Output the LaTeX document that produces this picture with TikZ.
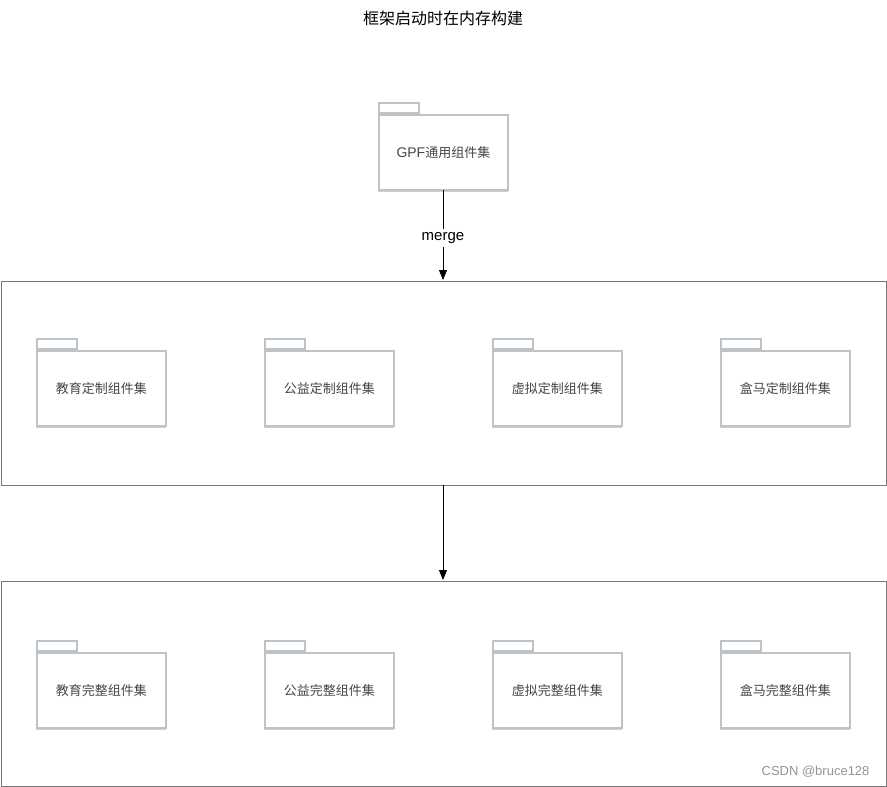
\documentclass[tikz,border=0pt]{standalone}
\usepackage{fontspec}
\setmainfont{Noto Sans CJK SC}
\newfontfamily\latin{Liberation Sans}
\usetikzlibrary{arrows.meta}
\definecolor{pkgline}{RGB}{190,195,199}
\definecolor{pkgshadow}{RGB}{205,208,211}
\definecolor{frameline}{RGB}{120,120,120}
\definecolor{pkgtext}{RGB}{70,70,70}
\tikzset{
  x=1pt,y=-1pt,
  pkgbody/.style={draw=pkgline,line width=1.8pt,fill=white,minimum width=129pt,minimum height=75pt,anchor=north west,inner sep=0pt,font=\fontsize{13}{15}\selectfont,text=pkgtext},
  pkgtab/.style={draw=pkgline,line width=1.8pt,fill=white,minimum width=40pt,minimum height=10pt,anchor=south west,inner sep=0pt},
  frame/.style={draw=frameline,line width=0.9pt,minimum width=885pt,anchor=north west,inner sep=0pt},
  conn/.style={-{Triangle[length=10pt,width=8pt]},line width=0.9pt,black}
}
\newcommand{\pkg}[4]{%
  \node[pkgtab] (#1t) at (#2,#3) {};
  \fill[pkgshadow] (#2,#3+75) rectangle (#2+130,#3+78);
  \node[pkgbody] (#1) at (#2,#3) {#4};
}
\begin{document}
\begin{tikzpicture}
\useasboundingbox (0,0) rectangle (887,787);
\node[font=\fontsize{16}{19}\selectfont] (title) at (443,18) {框架启动时在内存构建};
\pkg{gpf}{378}{114}{{\latin\fontsize{14}{15}\selectfont GPF}通用组件集}
\node[frame,minimum height=204pt] (f1) at (0.5,280.5) {};
\node[frame,minimum height=205pt] (f2) at (0.5,580.5) {};
\pkg{a1}{36}{350}{教育定制组件集}
\pkg{a2}{264}{350}{公益定制组件集}
\pkg{a3}{492}{350}{虚拟定制组件集}
\pkg{a4}{720}{350}{盒马定制组件集}
\pkg{b1}{36}{652}{教育完整组件集}
\pkg{b2}{264}{652}{公益完整组件集}
\pkg{b3}{492}{652}{虚拟完整组件集}
\pkg{b4}{720}{652}{盒马完整组件集}
\coordinate (g) at (443,190);
\coordinate (t1) at (443,280);
\coordinate (s2) at (443,485);
\coordinate (t2) at (443,580);
\draw[conn] (g) -- node[fill=white,inner sep=3pt,font=\latin\fontsize{15}{17}\selectfont,yshift=-3pt] (m) {merge} (t1);
\draw[conn] (s2) -- (t2);
\node[anchor=east,text=gray!85,font=\latin\fontsize{13}{15}\selectfont] (wm) at (873,772) {CSDN @bruce128};
\end{tikzpicture}
\end{document}
